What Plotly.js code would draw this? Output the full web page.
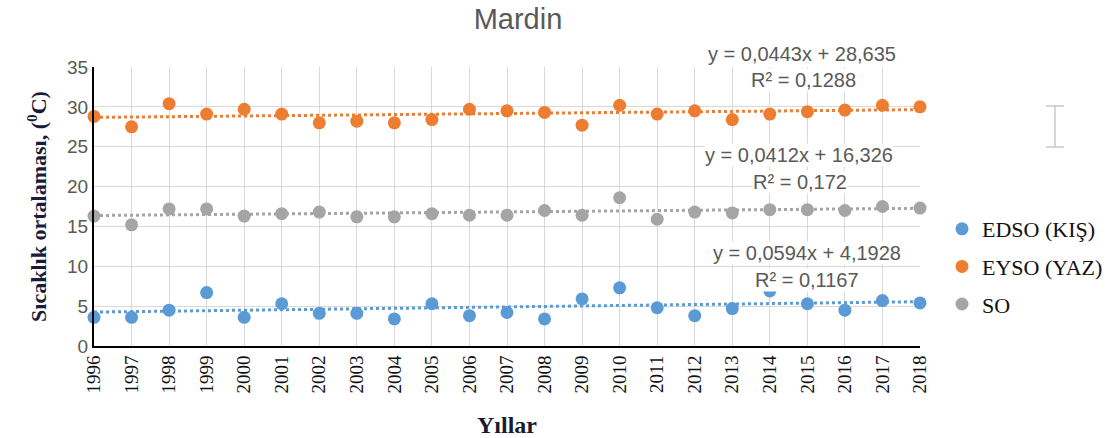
<!DOCTYPE html>
<html><head><meta charset="utf-8">
<script src="https://cdn.plot.ly/plotly-3.0.1.min.js"></script>
<style>html,body{margin:0;padding:0;background:#fff}#chart{width:1110px;height:438px}</style>
</head><body><div id="chart"></div>
<script>
const years = [1996,1997,1998,1999,2000,2001,2002,2003,2004,2005,2006,2007,2008,2009,2010,2011,2012,2013,2014,2015,2016,2017,2018];
const edso = [3.6,3.6,4.5,6.7,3.6,5.3,4.1,4.1,3.4,5.3,3.8,4.2,3.4,5.9,7.3,4.8,3.8,4.7,6.9,5.3,4.5,5.7,5.4];
const eyso = [28.8,27.5,30.4,29.1,29.7,29.1,28.0,28.2,28.0,28.4,29.7,29.5,29.3,27.7,30.2,29.1,29.5,28.4,29.1,29.4,29.6,30.2,30.0];
const so   = [16.3,15.2,17.2,17.2,16.3,16.6,16.8,16.2,16.2,16.6,16.4,16.4,17.0,16.4,18.6,15.9,16.8,16.7,17.1,17.1,17.0,17.5,17.3];
const seriesNames = ['EDSO (KIŞ)','EYSO (YAZ)','SO'];
// trendline coefficients (Excel, x = 1..n)
const slopes = [0.0594, 0.0443, 0.0412];
const intercepts = [4.1928, 28.635, 16.326];
const eqTexts = ['y = 0,0594x + 4,1928','y = 0,0443x + 28,635','y = 0,0412x + 16,326'];
const r2Texts = ['R² = 0,1167','R² = 0,1288','R² = 0,172'];

const colors = ['#5B9BD5','#ED7D31','#A5A5A5'];
const data = [edso, eyso, so];
const traces = [];
data.forEach((vals,i)=>{
  const n = years.length;
  traces.push({x:[years[0], years[n-1]], y:[slopes[i]*1+intercepts[i], slopes[i]*n+intercepts[i]],
    mode:'lines', line:{color:colors[i], width:3, dash:'dot'}, showlegend:false, hoverinfo:'skip'});
});
data.forEach((vals,i)=>{
  traces.push({x:years, y:vals, name:seriesNames[i], mode:'markers', legendgroup:'g'+i,
    marker:{color:colors[i], size:13}, cliponaxis:false});
});

const annPos = [[807,253,807,280],[802,54,803,80],[799,155,800,182]];
const annotations = [];
for (let i=0;i<3;i++){
  const p = annPos[i];
  annotations.push({xref:'paper',yref:'paper',x:(p[0]-94)/826,y:(346-p[1])/279,text:eqTexts[i],showarrow:false,
    font:{family:'Liberation Sans, Arial',size:20,color:'#595959'},bgcolor:'#fff',borderpad:0,xanchor:'center',yanchor:'middle'});
  annotations.push({xref:'paper',yref:'paper',x:(p[2]-94)/826,y:(346-p[3])/279,text:r2Texts[i],showarrow:false,
    font:{family:'Liberation Sans, Arial',size:20,color:'#595959'},bgcolor:'#fff',borderpad:0,xanchor:'center',yanchor:'middle'});
}

const layout = {
  width:1110, height:438,
  margin:{l:94, r:190, t:67, b:92, autoexpand:false},
  paper_bgcolor:'#fff', plot_bgcolor:'#fff',
  title:{text:'Mardin', xref:'container', x:518/1110, xanchor:'center', yref:'container', y:1-19/438, yanchor:'middle',
    font:{family:'Liberation Sans, Arial', size:29, color:'#595959'}},
  xaxis:{range:[1996,2018], tickmode:'array', tickvals:years, ticktext:years.map(String), tickangle:-90,
    showgrid:true, gridcolor:'#d9d9d9', gridwidth:1, showline:true, linecolor:'#000', linewidth:2,
    zeroline:false, ticks:'', ticklen:0,
    tickfont:{family:'Liberation Serif, Times New Roman', size:19, color:'#111'},
    title:{text:'<b>Yıllar</b>', standoff:26, font:{family:'Liberation Serif, Times New Roman', size:24, color:'#1b1b2e'}}},
  yaxis:{range:[0,35], dtick:5, showgrid:true, gridcolor:'#d9d9d9', gridwidth:1,
    showline:true, linecolor:'#000', linewidth:2, zeroline:false, ticks:'',
    tickfont:{family:'Liberation Sans, Arial', size:19, color:'#595959'},
    title:{text:'<b>Sıcaklık ortalaması, (<sup>0</sup>C)</b>', standoff:14,
      font:{family:'Liberation Serif, Times New Roman', size:22, color:'#1b1b3a'}}},
  legend:{x:(942-94)/826, y:(346-208)/279, xanchor:'left', yanchor:'top', traceorder:'grouped', tracegroupgap:6,
    font:{family:'Liberation Serif, Times New Roman', size:22, color:'#111'}, bgcolor:'rgba(0,0,0,0)'},
  annotations:annotations,
  shapes:[
    {type:'line',xref:'paper',yref:'paper',x0:(1055-94)/826,x1:(1055-94)/826,y0:(346-106)/279,y1:(346-147)/279,line:{color:'#c8c8c8',width:1.5}},
    {type:'line',xref:'paper',yref:'paper',x0:(1046-94)/826,x1:(1064-94)/826,y0:(346-106)/279,y1:(346-106)/279,line:{color:'#c8c8c8',width:1.5}},
    {type:'line',xref:'paper',yref:'paper',x0:(1046-94)/826,x1:(1064-94)/826,y0:(346-147)/279,y1:(346-147)/279,line:{color:'#c8c8c8',width:1.5}}
  ],
  showlegend:true
};
Plotly.newPlot('chart', traces, layout, {displayModeBar:false, staticPlot:true});
</script></body></html>
